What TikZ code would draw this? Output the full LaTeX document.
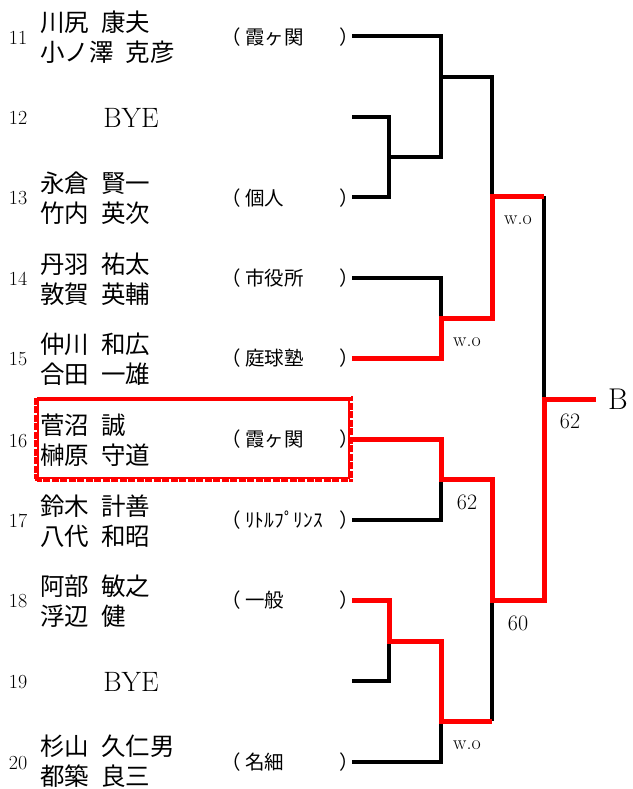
\documentclass[tikz,border=0pt]{standalone}
\usepackage{fontspec}
\newfontfamily\jp{Noto Sans CJK JP}
\newcommand\jgap{\hspace{0.5em}}
\begin{document}
\begin{tikzpicture}[x=1pt,y=-1pt,
  num/.style={font=\fontsize{20}{20}\selectfont, inner sep=0},
  names/.style={font=\jp\fontsize{24.5}{30}\selectfont, align=left, anchor=west, inner sep=0},
  bye/.style={font=\fontsize{28}{28}\selectfont, inner sep=0},
  club/.style={font=\jp\fontsize{19.5}{19.5}\selectfont, anchor=west, inner sep=0},
  lpar/.style={font=\jp\fontsize{19.5}{19.5}\selectfont, anchor=east, inner sep=0},
  rpar/.style={font=\jp\fontsize{19.5}{19.5}\selectfont, anchor=west, inner sep=0},
  score/.style={font=\fontsize{22}{22}\selectfont, inner sep=0},
  wo/.style={font=\fontsize{20}{20}\selectfont, inner sep=0},
  blk/.style={line width=3.2pt, black},
  win/.style={line width=5pt, red},
]
\useasboundingbox (0,0) rectangle (632,789);
\fill[white] (0,0) rectangle (632,789);

% row numbers
\foreach \n/\y in {11/38,12/118,13/198,14/279,15/359,16/441,17/521,18/601,19/682,20/763}
  \node[num] (n\n) at (18,\y) {\n};

% names
\node[names] (p11) at (40,37) {川尻\jgap 康夫\\小ノ澤\jgap 克彦};
\node[bye] (p12) at (131,118) {BYE};
\node[names] (p13) at (40,198) {永倉\jgap 賢一\\竹内\jgap 英次};
\node[names] (p14) at (40,279) {丹羽\jgap 祐太\\敦賀\jgap 英輔};
\node[names] (p15) at (40,359) {仲川\jgap 和広\\合田\jgap 一雄};
\node[names] (p16) at (40,440) {菅沼\jgap 誠\\榊原\jgap 守道};
\node[names] (p17) at (40,521) {鈴木\jgap 計善\\八代\jgap 和昭};
\node[names] (p18) at (40,601) {阿部\jgap 敏之\\浮辺\jgap 健};
\node[bye] (p19) at (131,682) {BYE};
\node[names] (p20) at (40,761) {杉山\jgap 久仁男\\都築\jgap 良三};

% clubs
\foreach \r/\y/\c in {11/37/霞ヶ関,13/198/個人,14/278/市役所,15/358/庭球塾,16/439/霞ヶ関,17/520/ﾘﾄﾙﾌﾟﾘﾝｽ,18/600/一般,20/762/名細}{
  \node[lpar] (lp\r) at (241,\y) {（};
  \node[club] (c\r) at (245,\y) {\c};
  \node[rpar] (rp\r) at (339,\y) {）};
}

% coordinates
\coordinate (e11) at (352,36);
\coordinate (e12) at (352,117);
\coordinate (e13) at (352,197);
\coordinate (e14) at (352,278);
\coordinate (e15) at (352,358);
\coordinate (e16) at (352,439);
\coordinate (e17) at (352,520);
\coordinate (e18) at (352,600);
\coordinate (e19) at (352,681);
\coordinate (e20) at (352,762);
\coordinate (j1213) at (389,157);
\coordinate (j1113) at (441,77);
\coordinate (j1415) at (441,318);
\coordinate (jA) at (492,196);
\coordinate (j1617) at (441,479);
\coordinate (j1819) at (389,641);
\coordinate (j1820) at (441,721);
\coordinate (jB) at (492,600);
\coordinate (jF) at (544,399);
\coordinate (fin) at (596,399);

% black lines
\draw[blk] (e11) -| (j1213 -| j1113) -- (j1213);
\draw[blk] (e12) -| (j1213) |- (e13);
\draw[blk] (j1113) -| (jA);
\draw[blk] (e14) -| (j1415);
\draw[blk] (jA -| jF) -- (jF);
\draw[blk] (e17) -| (j1617);
\draw[blk] (e19) -| (j1819);
\draw[blk] (jB) -- (jB |- j1820);
\draw[blk] (e20) -| (j1820);

% winner lines
\draw[win] (e15) -| (j1415) -| (jA) -- (jA -| jF);
\draw[win] (e16) -| (j1617) -| (jB) -| (jF) -- (fin);
\draw[win] (e18) -| (j1819) -| (j1820) -- (j1820 -| jB);

% scores
\node[wo] (s1) at (518,220) {w.o};
\node[wo] (s2) at (467,342) {w.o};
\node[score] (s3) at (570,421) {62};
\node[score] (s4) at (467,502) {62};
\node[score] (s5) at (518,623) {60};
\node[wo] (s6) at (467,745) {w.o};
\node[font=\fontsize{30}{30}\selectfont, inner sep=0, anchor=west] (B) at (608,399) {B};

% highlighted box
\node[draw=red, line width=5pt, minimum width=314pt, minimum height=81pt, inner sep=0] (hl) at (193.5,439) {};
\draw[white, line width=1pt] ([xshift=2.5pt]hl.north west) -- ([xshift=-2.5pt]hl.north east);
\draw[white, line width=5.1pt, dash pattern=on 1.5pt off 7pt] (hl.north west) -- (hl.south west) -- (hl.south east) -- (hl.north east);
\end{tikzpicture}
\end{document}
